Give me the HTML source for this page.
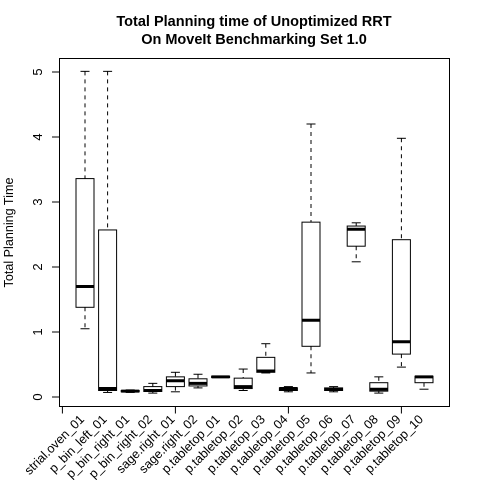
<!DOCTYPE html>
<html>
<head>
<meta charset="utf-8">
<style>
html,body{margin:0;padding:0;background:#fff;width:480px;height:480px;overflow:hidden;}
svg{display:block;}
text{font-family:"Liberation Sans",sans-serif;fill:#000;}
</style>
</head>
<body>
<svg id="chart" width="480" height="480" viewBox="0 0 480 480" xmlns="http://www.w3.org/2000/svg">
  <text x="254" y="26" text-anchor="middle" font-size="14.5" font-weight="bold">Total Planning time of Unoptimized RRT</text>
  <text x="254" y="44" text-anchor="middle" font-size="14.5" font-weight="bold">On MoveIt Benchmarking Set 1.0</text>
  <text transform="translate(13,232.5) rotate(-90)" text-anchor="middle" font-size="12.6">Total Planning Time</text>
  <rect x="59.5" y="58.5" width="390" height="348" fill="none" stroke="#000" stroke-width="1"/>
  <g id="marks"></g>
  <g id="axes"></g>
</svg>
<script>
const categories = ["strial.oven_01","p_bin_left_01","p_bin_right_01","p_bin_right_02","sage.right_01","sage.right_02","p.tabletop_01","p.tabletop_02","p.tabletop_03","p.tabletop_04","p.tabletop_05","p.tabletop_06","p.tabletop_07","p.tabletop_08","p.tabletop_09","p.tabletop_10"];
const whiskerHigh = [5.01,5.01,0.11,0.21,0.38,0.35,0.32,0.43,0.82,0.16,4.20,0.16,2.68,0.31,3.98,0.32];
const upperQuartile = [3.36,2.57,0.10,0.16,0.31,0.28,0.32,0.29,0.61,0.14,2.69,0.14,2.63,0.22,2.42,0.32];
const medians = [1.70,0.13,0.09,0.10,0.25,0.21,0.31,0.16,0.40,0.13,1.18,0.12,2.58,0.12,0.85,0.31];
const lowerQuartile = [1.38,0.10,0.08,0.085,0.16,0.17,0.30,0.13,0.38,0.10,0.78,0.10,2.32,0.09,0.66,0.22];
const whiskerLow = [1.05,0.07,0.07,0.06,0.08,0.14,0.30,0.10,0.37,0.08,0.37,0.08,2.08,0.06,0.46,0.12];
const yTicks = [0,1,2,3,4,5];
const xTicks = [0,5,10,15];

const NS = "http://www.w3.org/2000/svg";
const xScale = function (v) { return 62.4 + 22.6 * v; };
const yScale = function (v) { return 397 - 65 * v; };
const marks = document.getElementById("marks");
const axes = document.getElementById("axes");

function make(parent, tag, attrs) {
  const el = document.createElementNS(NS, tag);
  for (const k in attrs) { el.setAttribute(k, attrs[k]); }
  parent.appendChild(el);
  return el;
}

categories.forEach(function (name, i) {
  const cx = xScale(i + 1);
  const group = make(marks, "g", {});
  
  

  const upper = make(group, "line", {x1: cx, x2: cx, y1: yScale(whiskerHigh[i]), y2: yScale(upperQuartile[i]), stroke: "#000", "stroke-dasharray": "4 4"});
  
  

  const lower = make(group, "line", {x1: cx, x2: cx, y1: yScale(lowerQuartile[i]), y2: yScale(whiskerLow[i]), stroke: "#000", "stroke-dasharray": "4 4"});
  
  

  const capTop = make(group, "line", {x1: cx - 4.5, x2: cx + 4.5, y1: yScale(whiskerHigh[i]), y2: yScale(whiskerHigh[i]), stroke: "#000"});
  
  

  const capBottom = make(group, "line", {x1: cx - 4.5, x2: cx + 4.5, y1: yScale(whiskerLow[i]), y2: yScale(whiskerLow[i]), stroke: "#000"});
  
  

  const box = make(group, "rect", {x: cx - 9, y: yScale(upperQuartile[i]), width: 18, height: yScale(lowerQuartile[i]) - yScale(upperQuartile[i]), fill: "#fff", stroke: "#000"});
  
  

  const med = make(group, "line", {x1: cx - 9, x2: cx + 9, y1: yScale(medians[i]), y2: yScale(medians[i]), stroke: "#000", "stroke-width": 3});
  
  

  const label = make(axes, "text", {transform: "translate(" + cx + ",420) rotate(-45)", "text-anchor": "end", "font-size": 12.6});
  label.textContent = name;
  
  
});

const xAxisLine = make(axes, "line", {x1: xScale(xTicks[0]), x2: xScale(xTicks[xTicks.length - 1]), y1: 406.5, y2: 406.5, stroke: "#000"});



xTicks.forEach(function (t) {
  const tick = make(axes, "line", {x1: xScale(t), x2: xScale(t), y1: 406.5, y2: 413.5, stroke: "#000"});
  
  
});

const yAxisLine = make(axes, "line", {x1: 59.5, x2: 59.5, y1: yScale(yTicks[0]), y2: yScale(yTicks[yTicks.length - 1]), stroke: "#000"});



yTicks.forEach(function (t) {
  const tick = make(axes, "line", {x1: 52, x2: 59.5, y1: yScale(t), y2: yScale(t), stroke: "#000"});
  
  
  const label = make(axes, "text", {transform: "translate(42," + yScale(t) + ") rotate(-90)", "text-anchor": "middle", "font-size": 13});
  label.textContent = String(t);
  
  
});
</script>
</body>
</html>
